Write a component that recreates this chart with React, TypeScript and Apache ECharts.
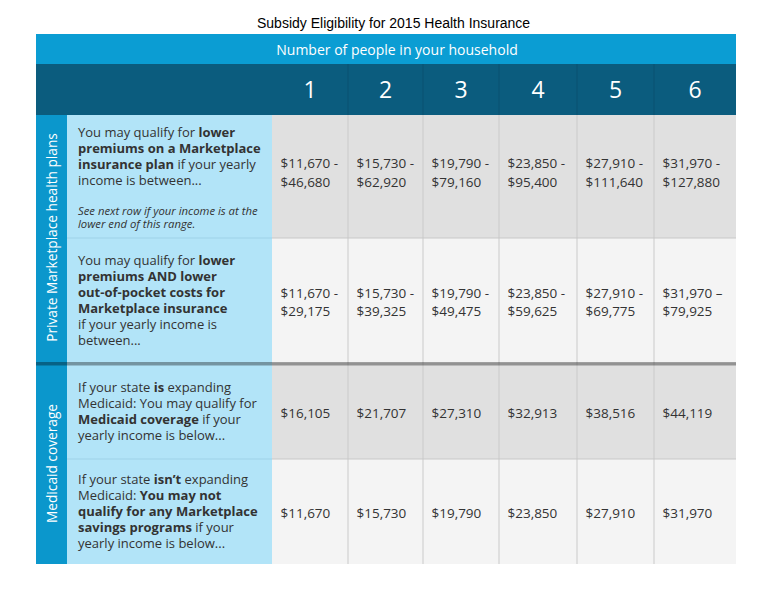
import React, { useEffect, useRef } from "react";
import * as echarts from "echarts";

// ---- data ----
const householdSizes = ["1", "2", "3", "4", "5", "6"];
const povertyFloor = [11670, 15730, 19790, 23850, 27910, 31970];
const premiumCeiling = [46680, 62920, 79160, 95400, 111640, 127880];
const costSharingCeiling = [29175, 39325, 49475, 59625, 69775, 79925];
const costSharingDash = ["-", "-", "-", "-", "-", "–"];
const medicaidExpanding = [16105, 21707, 27310, 32913, 38516, 44119];
const notExpanding = [11670, 15730, 19790, 23850, 27910, 31970];

const titleText = "Subsidy Eligibility for 2015 Health Insurance";
const headerText = "Number of people in your household";
const groupLabels = ["Private Marketplace health plans", "Medicaid coverage"];

const rowDescriptions: string[][] = [
  [
    "You may qualify for {b|lower}",
    "{b|premiums on a Marketplace}",
    "{b|insurance plan} if your yearly",
    "income is between...",
  ],
  [
    "You may qualify for {b|lower}",
    "{b|premiums AND lower}",
    "{b|out-of-pocket costs for}",
    "{b|Marketplace insurance}",
    "if your yearly income is",
    "between...",
  ],
  [
    "If your state {b|is} expanding",
    "Medicaid: You may qualify for",
    "{b|Medicaid coverage} if your",
    "yearly income is below...",
  ],
  [
    "If your state {b|isn’t} expanding",
    "Medicaid: {b|You may not}",
    "{b|qualify for any Marketplace}",
    "{b|savings programs} if your",
    "yearly income is below...",
  ],
];
const rowNote = ["See next row if your income is at the", "lower end of this range."];

const fmt = (v: number) => "$" + v.toLocaleString("en-US");

// ---- layout ----
const L = 36;
const R = 736;
const SIDE_R = 67;
const DESC_R = 272;
const colEdges = [272, 348, 423, 499, 577, 654, 736];
const rowEdges = [115, 238, 363, 459, 564];
const HEAD1_T = 34;
const HEAD1_B = 64;
const HEAD2_B = 115;

const FONT = "'Open Sans', 'Noto Sans', sans-serif";
const TEXT_COLOR = "#333333";

export default function App() {
  const ref = useRef<HTMLDivElement>(null);

  useEffect(() => {
    document.body.style.margin = "0";
    if (!ref.current) return;
    const chart = echarts.init(ref.current, null, { renderer: "svg" });

    const els: any[] = [];

    // header bands
    els.push({ type: "rect", shape: { x: L, y: HEAD1_T, width: R - L, height: HEAD1_B - HEAD1_T }, style: { fill: "#0b9dd3" } });
    els.push({ type: "rect", shape: { x: L, y: HEAD1_B, width: R - L, height: HEAD2_B - HEAD1_B }, style: { fill: "#0b5c7e" } });
    els.push({
      type: "text",
      x: 397,
      y: 49,
      style: { text: headerText, fill: "#ffffff", fontSize: 14, fontFamily: FONT, align: "center", verticalAlign: "middle" },
    });

    // header column numbers and dividers
    householdSizes.forEach((h, i) => {
      const cx = (colEdges[i] + colEdges[i + 1]) / 2;
      els.push({
        type: "text",
        x: cx,
        y: 89,
        style: { text: h, fill: "#ffffff", fontSize: 23, fontFamily: FONT, align: "center", verticalAlign: "middle" },
      });
      if (i > 0) {
        els.push({
          type: "rect",
          shape: { x: colEdges[i] - 0.5, y: HEAD1_B, width: 1, height: HEAD2_B - HEAD1_B },
          style: { fill: "#0a5070" },
        });
      }
    });

    // side group bar
    els.push({ type: "rect", shape: { x: L, y: HEAD2_B, width: SIDE_R - L, height: rowEdges[4] - HEAD2_B }, style: { fill: "#0b97cc" } });
    // description area
    els.push({ type: "rect", shape: { x: SIDE_R, y: HEAD2_B, width: DESC_R - SIDE_R, height: rowEdges[4] - HEAD2_B }, style: { fill: "#b2e4f8" } });

    // data cells
    const cellFill = ["#e0e0e0", "#f4f4f4", "#e0e0e0", "#f4f4f4"];
    for (let r = 0; r < 4; r++) {
      els.push({
        type: "rect",
        shape: { x: DESC_R, y: rowEdges[r], width: R - DESC_R, height: rowEdges[r + 1] - rowEdges[r] },
        style: { fill: cellFill[r] },
      });
    }
    // column dividers in body
    for (let i = 1; i < 6; i++) {
      els.push({
        type: "rect",
        shape: { x: colEdges[i] - 0.5, y: HEAD2_B, width: 1, height: rowEdges[4] - HEAD2_B },
        style: { fill: "#cacaca" },
      });
    }
    // row dividers (thin)
    [rowEdges[1], rowEdges[3]].forEach((y) => {
      els.push({ type: "rect", shape: { x: SIDE_R, y: y - 0.5, width: DESC_R - SIDE_R, height: 1 }, style: { fill: "#9dd2e8" } });
      els.push({ type: "rect", shape: { x: DESC_R, y: y - 0.5, width: R - DESC_R, height: 1 }, style: { fill: "#c8c8c8" } });
    });
    // thick separator between groups
    els.push({ type: "rect", shape: { x: L, y: rowEdges[2] - 1, width: R - L, height: 3.5 }, style: { fill: "rgba(0,0,0,0.35)" } });

    // group labels (vertical)
    const groupSpans = [
      [rowEdges[0], rowEdges[2]],
      [rowEdges[2] + 3, rowEdges[4]],
    ];
    groupLabels.forEach((g, i) => {
      els.push({
        type: "text",
        x: 51.5,
        y: (groupSpans[i][0] + groupSpans[i][1]) / 2 - 1.5,
        rotation: Math.PI / 2,
        style: { text: g, fill: "#ffffff", fontSize: 13.7, fontFamily: FONT, align: "center", verticalAlign: "middle" },
      });
    });

    // description text: one paragraph per row
    const descStart = [131.7, 260, 386.7, 479.3];
    const LH = 16;
    rowDescriptions.forEach((lines, r) => {
      els.push({
        type: "text",
        x: 78,
        y: descStart[r] - LH / 2,
        style: {
          text: lines.join("\n"),
          fill: TEXT_COLOR,
          fontSize: 13,
          lineHeight: LH,
          fontFamily: FONT,
          align: "left",
          verticalAlign: "top",
          rich: { b: { fontWeight: "bold", fontSize: 13, lineHeight: LH, fontFamily: FONT, fill: TEXT_COLOR } },
        },
      });
    });
    els.push({
      type: "text",
      x: 78,
      y: 210 - 6.5,
      style: {
        text: rowNote.join("\n"),
        fill: TEXT_COLOR,
        fontSize: 11.3,
        lineHeight: 13,
        fontStyle: "italic",
        fontFamily: FONT,
        align: "left",
        verticalAlign: "top",
      },
    });

    // values
    const VLH = 18.5;
    const addCell = (r: number, c: number, lines: string[], offset: number) => {
      const cy = (rowEdges[r] + rowEdges[r + 1]) / 2 + offset;
      els.push({
        type: "text",
        x: colEdges[c] + 8.5,
        y: cy,
        style: {
          text: lines.join("\n"),
          fill: TEXT_COLOR,
          fontSize: 13.5,
          lineHeight: VLH,
          fontFamily: FONT,
          align: "left",
          verticalAlign: "middle",
        },
      });
    };
    householdSizes.forEach((_, c) => {
      addCell(0, c, [fmt(povertyFloor[c]) + " -", fmt(premiumCeiling[c])], -4);
      addCell(1, c, [fmt(povertyFloor[c]) + " " + costSharingDash[c], fmt(costSharingCeiling[c])], 1.5);
      addCell(2, c, [fmt(medicaidExpanding[c])], 1.5);
      addCell(3, c, [fmt(notExpanding[c])], 1.5);
    });

    chart.setOption({
      animation: false,
      backgroundColor: "#ffffff",
      title: {
        text: titleText,
        left: 252,
        top: 11,
        textStyle: { fontFamily: "'Liberation Sans', Arial, sans-serif", fontSize: 14, fontWeight: "normal", color: "#000000" },
      },
      graphic: { elements: els },
    });

    return () => chart.dispose();
  }, []);

  return <div ref={ref} style={{ width: 773, height: 602 }} />;
}
